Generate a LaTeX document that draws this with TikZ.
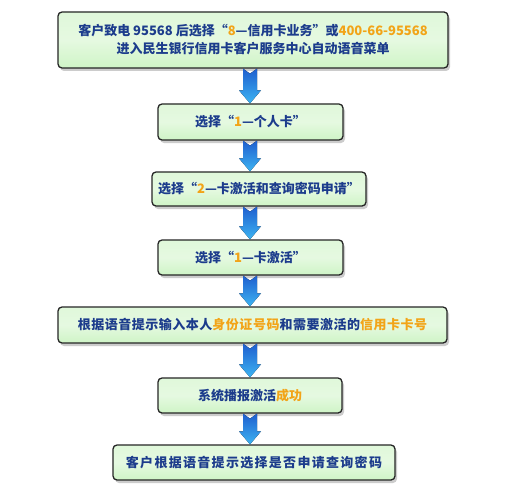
\documentclass[tikz,border=0pt]{standalone}
\usepackage{fontspec}
\setmainfont{Noto Sans CJK SC}
\usepackage{xcolor}
\usepackage{tikz}
\usetikzlibrary{shadows, calc}

\definecolor{txtblue}{HTML}{1C3C8C}
\definecolor{hlorange}{HTML}{F2A418}
\definecolor{boxgreen}{HTML}{C6F2BC}
\definecolor{arrowtop}{HTML}{1F5FCF}
\definecolor{arrowbot}{HTML}{3DB4F2}
\newcommand{\hl}[1]{\textcolor{hlorange}{#1}}
% blue block arrow from one box to the next
\newcommand{\flowarrow}[2]{%
  \fill[top color=arrowtop, bottom color=arrowbot]
    let \p1=(#1.south -| spine), \p2=(#2.north -| spine) in
    (\x1-7pt,\y1) -- (\x1,\y1-5pt) -- (\x1+7pt,\y1) -- (\x1+7pt,\y2+13pt)
    -- (\x1+11pt,\y2+13pt) -- (\x2,\y2) -- (\x1-11pt,\y2+13pt)
    -- (\x1-7pt,\y2+13pt) -- cycle;}

\begin{document}
\begin{tikzpicture}[
  x=1pt, y=-1pt,
  font=\fontsize{13}{18}\selectfont\bfseries,
  stepbox/.style={draw=black!85, line width=1.3pt, rounded corners=4pt,
    top color=boxgreen!55, bottom color=boxgreen!85, middle color=boxgreen!45,
    text=txtblue, align=center, inner sep=0pt,
    drop shadow={shadow xshift=2pt, shadow yshift=-3pt, opacity=0.4}}
]
  \fill[white] (0,0) rectangle (516,500);
  \useasboundingbox (0,0) rectangle (516,500);
  \coordinate (spine) at (250,0);

  \node[stepbox, minimum width=390pt, minimum height=56pt] (call) at (253,40)
    {客户致电 95568 后选择“\hl{8}—信用卡业务”或\hl{400-66-95568}\\
     进入民生银行信用卡客户服务中心自动语音菜单};
  \node[stepbox, minimum width=185pt, minimum height=36pt] (personal) at (250.5,122)
    {选择“\hl{1}—个人卡”};
  \node[stepbox, minimum width=214pt, minimum height=34pt] (menu) at (259,189)
    {选择“\hl{2}—卡激活和查询密码申请”};
  \node[stepbox, minimum width=185pt, minimum height=35pt] (activate) at (250.5,257.5)
    {选择“\hl{1}—卡激活”};
  \node[stepbox, minimum width=389pt, minimum height=36pt] (input) at (252.5,325)
    {\addfontfeature{LetterSpace=4}根据语音提示输入本人\hl{身份证号码}和需要激活的\hl{信用卡卡号}};
  \node[stepbox, minimum width=184pt, minimum height=35pt] (success) at (250,395.5)
    {系统播报激活\hl{成功}};
  \node[stepbox, minimum width=282pt, minimum height=35pt] (query) at (254,462.5)
    {\addfontfeature{LetterSpace=10}客户根据语音提示选择是否申请查询密码};

  \flowarrow{call}{personal}
  \flowarrow{personal}{menu}
  \flowarrow{menu}{activate}
  \flowarrow{activate}{input}
  \flowarrow{input}{success}
  \flowarrow{success}{query}
\end{tikzpicture}
\end{document}
